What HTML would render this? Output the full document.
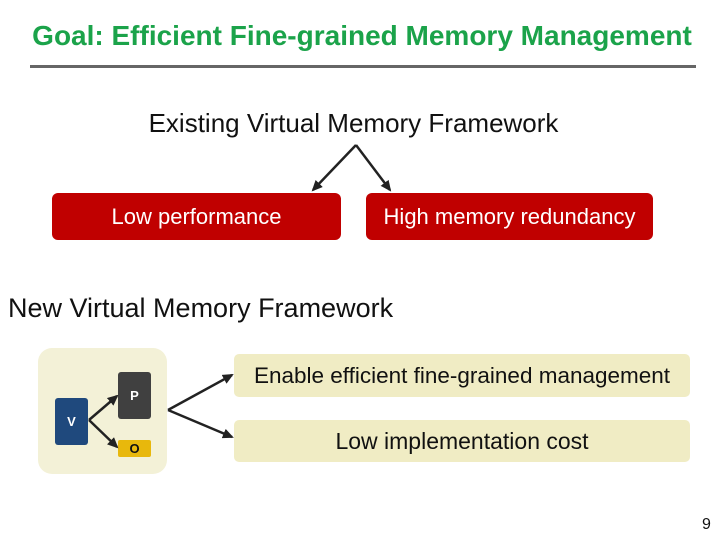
<!DOCTYPE html>
<html><head><style>
body{margin:0;width:720px;height:540px;background:#fff;position:relative;overflow:hidden;font-family:"Liberation Sans",sans-serif}
.a{position:absolute}
.t{text-align:center;white-space:nowrap}
</style></head><body>
<div class="a t" style="left:0;width:724px;top:20px;font-size:28px;font-weight:bold;color:#1ba34a">Goal: Efficient Fine-grained Memory Management</div>
<div class="a" style="left:30px;top:65px;width:666px;height:3px;background:#666"></div>
<div class="a t" style="left:0;width:707px;top:108px;font-size:26px;color:#111">Existing Virtual Memory Framework</div>
<div class="a t" style="left:52px;top:193px;width:289px;height:47px;line-height:47px;background:#c00000;border-radius:6px;color:#fff;font-size:22px">Low performance</div>
<div class="a t" style="left:366px;top:193px;width:287px;height:47px;line-height:47px;background:#c00000;border-radius:6px;color:#fff;font-size:22px">High memory redundancy</div>
<div class="a" style="left:8px;top:293px;font-size:27px;color:#111;white-space:nowrap">New Virtual Memory Framework</div>
<div class="a" style="left:38px;top:348px;width:129px;height:126px;background:#f3f1d7;border-radius:14px"></div>
<div class="a t" style="left:55px;top:398px;width:33px;height:47px;line-height:47px;background:#1f497d;border-radius:3px;color:#fff;font-size:13px;font-weight:bold">V</div>
<div class="a t" style="left:118px;top:372px;width:33px;height:47px;line-height:47px;background:#404040;border-radius:3px;color:#fff;font-size:13px;font-weight:bold">P</div>
<div class="a t" style="left:118px;top:440px;width:33px;height:17px;line-height:17px;background:#e8b80c;border-radius:2px;color:#111;font-size:13px;font-weight:bold">O</div>
<div class="a t" style="left:234px;top:354px;width:456px;height:43px;line-height:43px;background:#f0ecc4;border-radius:5px;color:#111;font-size:22.5px">Enable efficient fine-grained management</div>
<div class="a t" style="left:234px;top:420px;width:456px;height:42px;line-height:42px;background:#f0ecc4;border-radius:5px;color:#111;font-size:23px">Low implementation cost</div>
<div class="a" style="left:702px;top:516px;font-size:16px;color:#111">9</div>
<svg class="a" style="left:0;top:0" width="720" height="540">
<defs><marker id="m" markerWidth="11" markerHeight="10" refX="9" refY="5" orient="auto" markerUnits="userSpaceOnUse"><path d="M0,0L11,5L0,10z" fill="#222"/></marker></defs>
<g stroke="#222" stroke-width="2.5" fill="none">
<path d="M356,145L313,190" marker-end="url(#m)"/>
<path d="M356,145L390,190" marker-end="url(#m)"/>
<path d="M89,420L117,396" marker-end="url(#m)"/>
<path d="M89,420L117,447" marker-end="url(#m)"/>
<path d="M168,410L232,375" marker-end="url(#m)"/>
<path d="M168,410L232,437" marker-end="url(#m)"/>
</g></svg>
</body></html>
